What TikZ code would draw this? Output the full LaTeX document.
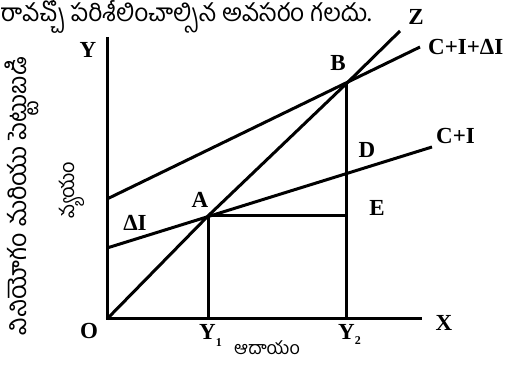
\documentclass[tikz,border=0pt]{standalone}
\usepackage{fontspec}
\setmainfont{Liberation Serif}
\newfontfamily\telugu[Script=Telugu]{Hind Guntur}
\begin{document}
\begin{tikzpicture}[x=1pt,y=-1pt,
  ln/.style={line width=3pt,line cap=butt},
  lab/.style={font=\fontsize{23}{23}\selectfont\bfseries,inner sep=0pt},
  tel/.style={font=\telugu\fontsize{19}{19}\selectfont,inner sep=0pt}]
\useasboundingbox (0,0) rectangle (507,366);
\clip (0,0) rectangle (507,366);
% key points
\coordinate (O) at (107,319);
\coordinate (Ytop) at (107,37);
\coordinate (Xend) at (422,319);
\coordinate (A) at (208,216);
\coordinate (B) at (346,84);
\coordinate (Zend) at (400,31);
\coordinate (CIs) at (107,248);
\coordinate (CIe) at (432,147);
\coordinate (CIDs) at (107,199);
\coordinate (CIDe) at (420,47);
\coordinate (Y1) at (208,319);
\coordinate (Y2) at (346,319);
\coordinate (E) at (346,216);
% axes
\draw[ln] (Ytop) -- (O) -- (Xend);
% Z line
\draw[ln] (O) -- (A) -- (B) -- (Zend);
% C+I and C+I+dI
\draw[ln] (CIs) -- (CIe);
\draw[ln] (CIDs) -- (CIDe);
% verticals and horizontal
\draw[ln] (A) -- (Y1);
\draw[ln] (B) -- (Y2);
\draw[ln] (A) -- (E);
% labels
\node[lab] (lY) at (88,50) {Y};
\node[lab] (lO) at (89,331) {O};
\node[lab] (lX) at (444,323) {X};
\node[lab] (lZ) at (416,17) {Z};
\node[lab,anchor=west] (lCID) at (428,47) {C+I+ΔI};
\node[lab,anchor=west] (lCI) at (436,136) {C+I};
\node[lab] (lB) at (338,63) {B};
\node[lab] (lA) at (200,200) {A};
\node[lab] (ldI) at (135,223) {ΔI};
\node[lab] (lD) at (367,150) {D};
\node[lab] (lE) at (377,208) {E};
\node[lab,anchor=base west] (lY1) at (199,340) {Y\raisebox{-7pt}{\fontsize{12}{12}\selectfont 1}};
\node[lab,anchor=base west] (lY2) at (338,340) {Y\raisebox{-5pt}{\fontsize{12}{12}\selectfont 2}};
% Telugu texts
\node[tel,anchor=west,font=\telugu\fontsize{24.5}{24.5}\selectfont] (top) at (0,16) {రావచ్చో పరిశీలించాల్సిన అవసరం గలదు.};
\node[tel,font=\telugu\fontsize{18}{18}\selectfont] (inc) at (267,348) {ఆదాయం};
\node[tel,rotate=90,font=\telugu\fontsize{20}{20}\selectfont] (exp) at (72,190) {వ్యయం};
\node[tel,rotate=90,font=\telugu\fontsize{25}{25}\selectfont] (cons) at (22,196) {వినియోగం మరియు పెట్టుబడి};
\end{tikzpicture}
\end{document}
